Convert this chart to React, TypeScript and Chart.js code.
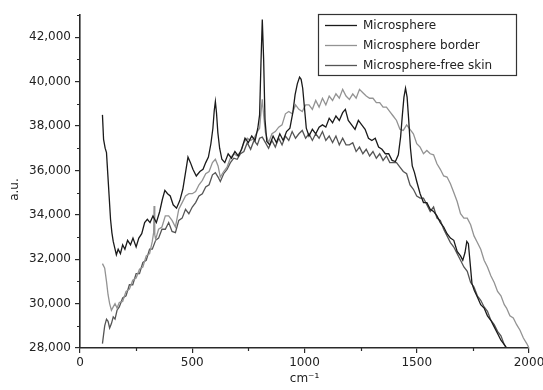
import React, { useEffect, useRef } from "react";
import { Chart, registerables } from "chart.js";

Chart.register(...registerables);

const seriesLabels = ["Microsphere", "Microsphere border", "Microsphere-free skin"];
const seriesColors = ["#1a1a1a", "#939393", "#555555"];
const xTicks = [0, 500, 1000, 1500, 2000];
const xMinorTicks = [250, 750, 1250, 1750];
const yTicks = [28000, 30000, 32000, 34000, 36000, 38000, 40000, 42000];
const yMinorTicks = [29000, 31000, 33000, 35000, 37000, 39000, 41000, 43000];
const xTitle = "cm\u207B\u00B9";
const yTitle = "a.u.";

const microsphere: [number, number][] = [
  [100, 38500], [105, 37400], [112, 37000], [118, 36800], [124, 35800], [130, 34800], [136, 33800],
  [142, 33200], [148, 32800], [155, 32500], [162, 32200], [170, 32450], [180, 32250], [190, 32650],
  [200, 32450], [212, 32850], [225, 32650], [236, 32950], [250, 32550], [262, 32950], [275, 33150],
  [288, 33650], [300, 33800], [312, 33650], [325, 33950], [340, 33650], [355, 34150], [367, 34700],
  [378, 35100], [390, 34950], [402, 34850], [415, 34450], [430, 34300], [445, 34650], [458, 35150],
  [470, 35900], [481, 36600], [492, 36350], [503, 36050], [518, 35750], [534, 35950], [548, 36050],
  [560, 36350], [572, 36600], [583, 37200], [592, 37900], [598, 38700], [603, 39100], [608, 38600],
  [614, 37700], [622, 37000], [632, 36500], [645, 36350], [660, 36750], [675, 36550], [690, 36850],
  [705, 36650], [720, 36950], [735, 37450], [750, 37250], [765, 37550], [780, 37350], [792, 37900],
  [800, 38500], [806, 40800], [812, 42800], [818, 41000], [824, 38300], [832, 37300], [845, 37150],
  [860, 37550], [875, 37250], [890, 37650], [905, 37350], [920, 37750], [935, 37900], [948, 38600],
  [958, 39400], [968, 39900], [978, 40200], [985, 40100], [992, 39700], [1000, 38800], [1008, 37900],
  [1020, 37550], [1035, 37850], [1050, 37650], [1065, 37950], [1080, 38050], [1095, 37950],
  [1110, 38350], [1125, 38150], [1140, 38450], [1155, 38250], [1170, 38600], [1182, 38750],
  [1195, 38250], [1210, 38050], [1225, 37850], [1240, 38250], [1255, 38050], [1270, 37850],
  [1285, 37450], [1300, 37350], [1315, 37450], [1330, 37050], [1345, 36950], [1360, 36750],
  [1375, 36750], [1390, 36450], [1405, 36400], [1418, 36700], [1428, 37500], [1436, 38500],
  [1443, 39300], [1450, 39700], [1457, 39300], [1464, 38300], [1472, 37000], [1480, 36200],
  [1490, 35900], [1500, 35500], [1515, 34950], [1530, 34550], [1545, 34550], [1560, 34250],
  [1575, 34150], [1590, 33950], [1605, 33650], [1620, 33450], [1635, 33150], [1650, 32950],
  [1665, 32850], [1680, 32350], [1695, 32150], [1705, 31950], [1715, 32300], [1723, 32800],
  [1730, 32700], [1738, 31800], [1746, 30900], [1756, 30600], [1770, 30300], [1785, 29950],
  [1800, 29800], [1815, 29450], [1830, 29250], [1845, 28950], [1860, 28650], [1875, 28350],
  [1890, 28150], [1900, 28000],
];

const microsphereBorder: [number, number][] = [
  [100, 31800], [105, 31700], [110, 31600], [118, 31000], [125, 30400], [132, 30000], [140, 29700],
  [148, 29850], [156, 30000], [165, 29800], [175, 30050], [190, 30100], [205, 30550], [220, 30650],
  [235, 31050], [250, 31150], [265, 31550], [280, 31650], [295, 32150], [310, 32250], [322, 32800],
  [328, 33200], [330, 34400], [333, 33100], [337, 32900], [350, 33350], [365, 33450], [380, 33950],
  [395, 33950], [410, 33750], [425, 33450], [440, 34250], [455, 34550], [470, 34850], [485, 34950],
  [500, 34950], [515, 35050], [530, 35350], [545, 35550], [560, 35850], [575, 35950], [590, 36350],
  [603, 36500], [615, 36200], [625, 35700], [640, 35950], [655, 36150], [670, 36550], [685, 36750],
  [700, 36650], [715, 36850], [730, 37250], [745, 37450], [760, 37350], [775, 37450], [790, 37750],
  [800, 37900], [806, 38600], [812, 39200], [818, 38500], [826, 37700], [840, 37250], [855, 37650],
  [870, 37750], [885, 37950], [900, 38050], [915, 38550], [930, 38650], [945, 38550], [960, 38950],
  [975, 38750], [990, 38650], [1005, 38950], [1020, 38950], [1035, 38750], [1050, 39150],
  [1065, 38850], [1080, 39250], [1095, 38950], [1110, 39350], [1125, 39150], [1140, 39450],
  [1155, 39250], [1170, 39650], [1185, 39350], [1200, 39200], [1215, 39450], [1230, 39250],
  [1245, 39650], [1260, 39500], [1275, 39350], [1290, 39250], [1305, 39250], [1320, 39050],
  [1335, 39050], [1350, 38850], [1365, 38850], [1380, 38650], [1395, 38450], [1410, 38250],
  [1425, 37850], [1440, 37800], [1455, 38050], [1470, 37850], [1485, 37650], [1500, 37200],
  [1515, 37050], [1530, 36750], [1545, 36900], [1560, 36750], [1575, 36700], [1590, 36300],
  [1605, 36050], [1620, 35750], [1635, 35700], [1650, 35400], [1665, 35000], [1680, 34600],
  [1695, 34050], [1710, 33850], [1725, 33850], [1740, 33550], [1755, 33050], [1770, 32750],
  [1785, 32450], [1800, 31950], [1815, 31650], [1830, 31250], [1845, 30950], [1860, 30550],
  [1875, 30350], [1890, 29950], [1900, 29800], [1915, 29450], [1930, 29350], [1945, 29050],
  [1960, 28800], [1975, 28450], [1990, 28200], [2000, 28000],
];

const microsphereFreeSkin: [number, number][] = [
  [100, 28200], [105, 28600], [110, 29000], [118, 29300], [125, 29200], [132, 28900], [140, 29100],
  [148, 29400], [156, 29300], [165, 29700], [175, 29850], [190, 30250], [205, 30350], [220, 30850],
  [235, 30850], [250, 31350], [265, 31350], [280, 31850], [295, 31950], [310, 32450], [322, 32450],
  [337, 32850], [350, 32950], [365, 33350], [380, 33350], [395, 33650], [410, 33250], [425, 33200],
  [440, 33750], [455, 33850], [470, 34250], [485, 34050], [500, 34350], [515, 34550], [530, 34850],
  [545, 34950], [560, 35250], [575, 35350], [590, 35800], [603, 35900], [615, 35700], [625, 35500],
  [640, 35850], [655, 36050], [670, 36350], [685, 36550], [700, 36500], [715, 36750], [730, 36850],
  [745, 37250], [760, 36950], [775, 37350], [790, 37150], [800, 37450], [812, 37500], [826, 37250],
  [840, 37000], [855, 37350], [870, 37050], [885, 37450], [900, 37150], [915, 37550], [930, 37350],
  [945, 37750], [960, 37450], [975, 37650], [990, 37800], [1005, 37450], [1020, 37650],
  [1035, 37350], [1050, 37650], [1065, 37450], [1080, 37750], [1095, 37350], [1110, 37550],
  [1125, 37250], [1140, 37550], [1155, 37150], [1170, 37450], [1185, 37150], [1200, 37150],
  [1215, 37250], [1230, 36850], [1245, 37050], [1260, 36750], [1275, 36950], [1290, 36650],
  [1305, 36850], [1320, 36550], [1335, 36750], [1350, 36450], [1365, 36650], [1380, 36350],
  [1395, 36350], [1410, 36350], [1425, 36150], [1440, 35950], [1455, 35850], [1470, 35350],
  [1485, 35150], [1500, 34850], [1515, 34750], [1530, 34750], [1545, 34450], [1560, 34150],
  [1575, 34350], [1590, 33850], [1605, 33750], [1620, 33350], [1635, 33050], [1650, 32750],
  [1665, 32550], [1680, 32250], [1695, 31950], [1710, 31650], [1725, 31450], [1740, 30950],
  [1755, 30750], [1770, 30350], [1785, 30150], [1800, 29850], [1815, 29650], [1830, 29250],
  [1845, 29050], [1860, 28750], [1875, 28550], [1890, 28150], [1900, 28000],
];

const FONT = "DejaVu Sans";
const AXIS_COLOR = "#2a2a2a";

const decorPlugin = {
  id: "decor",
  afterDraw(chart: any) {
    const { ctx, chartArea, scales } = chart;
    const xs = scales.x;
    const ys = scales.y;
    ctx.save();
    ctx.strokeStyle = AXIS_COLOR;
    ctx.lineWidth = 1.2;
    ctx.beginPath();
    xMinorTicks.forEach((v) => {
      const px = Math.round(xs.getPixelForValue(v)) + 0.5;
      ctx.moveTo(px, chartArea.bottom);
      ctx.lineTo(px, chartArea.bottom + 3);
    });
    yMinorTicks.forEach((v) => {
      const py = Math.round(ys.getPixelForValue(v)) + 0.5;
      ctx.moveTo(chartArea.left - 3, py);
      ctx.lineTo(chartArea.left, py);
    });
    ctx.stroke();

    ctx.fillStyle = "#222";
    ctx.font = `12px "${FONT}"`;
    ctx.textAlign = "center";
    ctx.textBaseline = "middle";
    ctx.save();
    ctx.translate(15, (chartArea.top + chartArea.bottom) / 2 + 8);
    ctx.rotate(-Math.PI / 2);
    ctx.fillText(yTitle, 0, 0);
    ctx.restore();

    const boxL = chartArea.right - 211;
    const boxT = chartArea.top - 1;
    const boxW = 198;
    const boxH = 61;
    ctx.fillStyle = "#ffffff";
    ctx.fillRect(boxL, boxT, boxW, boxH);
    ctx.strokeStyle = "#333";
    ctx.lineWidth = 1.2;
    ctx.strokeRect(boxL + 0.5, boxT + 0.5, boxW, boxH);
    chart.data.datasets.forEach((ds: any, i: number) => {
      const y = boxT + 11 + i * 20;
      ctx.strokeStyle = ds.borderColor;
      ctx.lineWidth = 1.3;
      ctx.beginPath();
      ctx.moveTo(boxL + 7, y + 0.5);
      ctx.lineTo(boxL + 39, y + 0.5);
      ctx.stroke();
      ctx.fillStyle = "#222";
      ctx.textAlign = "left";
      ctx.textBaseline = "middle";
      ctx.font = `12px "${FONT}"`;
      ctx.fillText(ds.label, boxL + 45, y + 1);
    });
    ctx.restore();
  },
};

export default function App() {
  const canvasRef = useRef<HTMLCanvasElement | null>(null);

  useEffect(() => {
    if (!canvasRef.current) return;
    const series = [microsphere, microsphereBorder, microsphereFreeSkin];
    const chart = new Chart(canvasRef.current, {
      type: "line",
      data: {
        datasets: series.map((d, i) => ({
          label: seriesLabels[i],
          data: d.map(([x, y]) => ({ x, y })),
          borderColor: seriesColors[i],
          borderWidth: 1.3,
          pointRadius: 0,
          tension: 0,
          fill: false,
        })),
      },
      options: {
        responsive: false,
        animation: false,
        events: [],
        layout: { padding: { top: 15, right: 14, left: 0, bottom: 0 } },
        plugins: {
          legend: { display: false },
          tooltip: { enabled: false },
        },
        scales: {
          x: {
            type: "linear",
            min: 0,
            max: 2000,
            afterBuildTicks: (scale: any) => {
              scale.ticks = xTicks.map((v) => ({ value: v }));
            },
            afterFit: (scale: any) => {
              scale.height = 42;
              scale.paddingRight = 0;
              scale.paddingLeft = 0;
            },
            grid: {
              drawOnChartArea: false,
              drawTicks: true,
              tickLength: 5,
              color: AXIS_COLOR,
              lineWidth: 1.2,
            },
            border: { color: AXIS_COLOR, width: 1.6 },
            ticks: {
              color: "#222",
              font: { family: FONT, size: 12 },
              padding: 3,
              maxRotation: 0,
              callback: (v: any) => String(v),
            },
            title: {
              display: true,
              text: xTitle,
              color: "#222",
              font: { family: FONT, size: 12 },
              padding: { top: 0, bottom: 4 },
            },
          },
          y: {
            type: "linear",
            min: 28000,
            max: 43000,
            afterBuildTicks: (scale: any) => {
              scale.ticks = yTicks.map((v) => ({ value: v }));
            },
            afterFit: (scale: any) => {
              scale.width = 80;
              scale.paddingTop = 0;
              scale.paddingBottom = 0;
            },
            grid: {
              drawOnChartArea: false,
              drawTicks: true,
              tickLength: 5,
              color: AXIS_COLOR,
              lineWidth: 1.2,
            },
            border: { color: AXIS_COLOR, width: 1.6 },
            ticks: {
              color: "#222",
              font: { family: FONT, size: 12 },
              padding: 4,
              callback: (v: any) => Number(v).toLocaleString("en-US"),
            },
          },
        },
      },
      plugins: [decorPlugin],
    });
    return () => chart.destroy();
  }, []);

  return (
    <div style={{ position: "fixed", left: 0, top: 0, width: 543, height: 390, background: "#fff" }}>
      <canvas ref={canvasRef} width={543} height={390} style={{ display: "block" }} />
    </div>
  );
}
